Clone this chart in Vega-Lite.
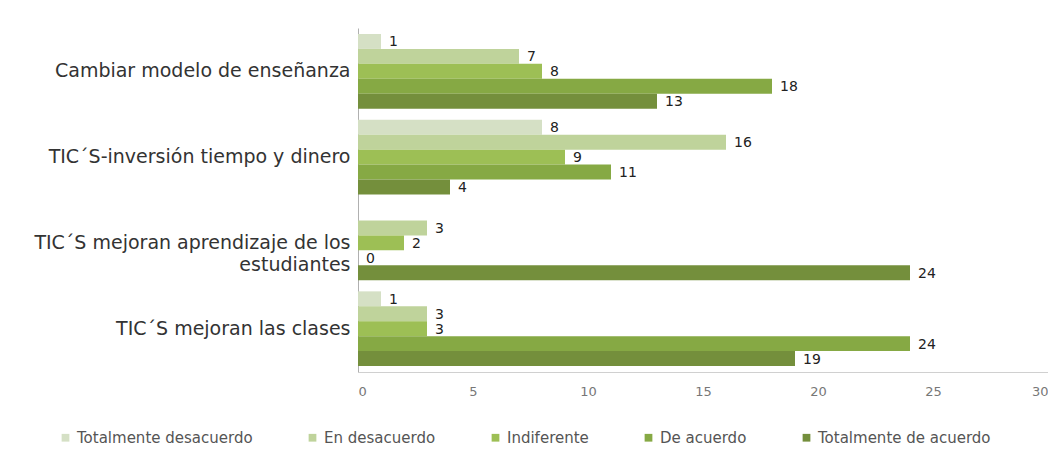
{
  "$schema": "https://vega.github.io/schema/vega-lite/v6.json",
  "width": 690,
  "height": 344,
  "padding": {"left": 8, "top": 28, "right": 0, "bottom": 0},
  "background": "white",
  "config": {"view": {"stroke": null}, "font": "DejaVu Sans"},
  "data": {"values": [
    {"cat": "Cambiar modelo de enseñanza", "serie": "Totalmente desacuerdo", "v": 1},
    {"cat": "Cambiar modelo de enseñanza", "serie": "En desacuerdo", "v": 7},
    {"cat": "Cambiar modelo de enseñanza", "serie": "Indiferente", "v": 8},
    {"cat": "Cambiar modelo de enseñanza", "serie": "De acuerdo", "v": 18},
    {"cat": "Cambiar modelo de enseñanza", "serie": "Totalmente de acuerdo", "v": 13},
    {"cat": "TIC´S-inversión tiempo y dinero", "serie": "Totalmente desacuerdo", "v": 8},
    {"cat": "TIC´S-inversión tiempo y dinero", "serie": "En desacuerdo", "v": 16},
    {"cat": "TIC´S-inversión tiempo y dinero", "serie": "Indiferente", "v": 9},
    {"cat": "TIC´S-inversión tiempo y dinero", "serie": "De acuerdo", "v": 11},
    {"cat": "TIC´S-inversión tiempo y dinero", "serie": "Totalmente de acuerdo", "v": 4},
    {"cat": "TIC´S mejoran aprendizaje de los estudiantes", "serie": "En desacuerdo", "v": 3},
    {"cat": "TIC´S mejoran aprendizaje de los estudiantes", "serie": "Indiferente", "v": 2},
    {"cat": "TIC´S mejoran aprendizaje de los estudiantes", "serie": "De acuerdo", "v": 0},
    {"cat": "TIC´S mejoran aprendizaje de los estudiantes", "serie": "Totalmente de acuerdo", "v": 24},
    {"cat": "TIC´S mejoran las clases", "serie": "Totalmente desacuerdo", "v": 1},
    {"cat": "TIC´S mejoran las clases", "serie": "En desacuerdo", "v": 3},
    {"cat": "TIC´S mejoran las clases", "serie": "Indiferente", "v": 3},
    {"cat": "TIC´S mejoran las clases", "serie": "De acuerdo", "v": 24},
    {"cat": "TIC´S mejoran las clases", "serie": "Totalmente de acuerdo", "v": 19}
  ]},
  "encoding": {
    "y": {
      "field": "cat", "type": "nominal",
      "sort": ["Cambiar modelo de enseñanza", "TIC´S-inversión tiempo y dinero", "TIC´S mejoran aprendizaje de los estudiantes", "TIC´S mejoran las clases"],
      "scale": {"paddingInner": 0.13, "paddingOuter": 0.07},
      "axis": {
        "title": null, "ticks": false, "domainColor": "#b0b0b0", "labelFontSize": 19,
        "labelColor": "#333333", "labelPadding": 8, "labelLimit": 400,
        "minExtent": 350, "maxExtent": 350, "labelLineHeight": 22,
        "labelExpr": "datum.value == 'TIC´S mejoran aprendizaje de los estudiantes' ? ['TIC´S mejoran aprendizaje de los', 'estudiantes'] : datum.value"
      }
    },
    "yOffset": {
      "field": "serie", "type": "nominal",
      "scale": {"domain": ["Totalmente desacuerdo", "En desacuerdo", "Indiferente", "De acuerdo", "Totalmente de acuerdo"], "paddingInner": 0, "paddingOuter": 0}
    },
    "x": {
      "field": "v", "type": "quantitative",
      "scale": {"domain": [0, 30]},
      "axis": {
        "title": null, "grid": false, "ticks": false, "values": [0, 5, 10, 15, 20, 25, 30],
        "domainColor": "#d0d0d0", "labelColor": "#777777", "labelFontSize": 13, "labelPadding": 13
      }
    }
  },
  "layer": [
    {
      "mark": {"type": "bar"},
      "encoding": {
        "color": {
          "field": "serie", "type": "nominal",
          "scale": {
            "domain": ["Totalmente desacuerdo", "En desacuerdo", "Indiferente", "De acuerdo", "Totalmente de acuerdo"],
            "range": ["#d5e0c5", "#bfd39b", "#9dbf55", "#86a944", "#748f3c"]
          },
          "legend": {
            "title": null, "orient": "none", "direction": "horizontal",
            "legendX": -300, "legendY": 402,
            "symbolType": "square", "symbolSize": 60, "symbolStrokeWidth": 0,
            "labelFontSize": 15, "labelColor": "#555555", "columnPadding": 52, "labelOffset": 4, "labelLimit": 400
          }
        }
      }
    },
    {
      "mark": {"type": "text", "align": "left", "dx": 8, "dy": 1, "fontSize": 14, "color": "#222222"},
      "encoding": {"text": {"field": "v", "type": "quantitative"}}
    }
  ]
}
